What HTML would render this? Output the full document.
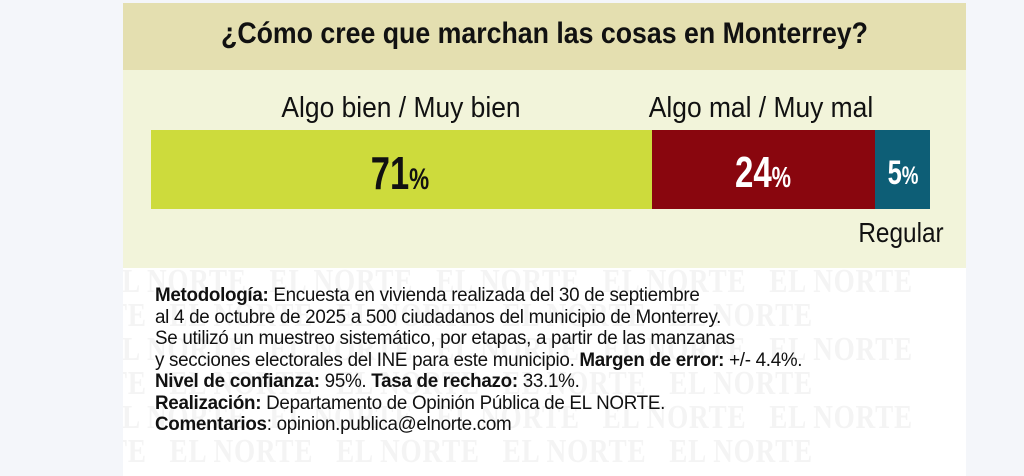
<!DOCTYPE html>
<html><head><meta charset="utf-8"><style>
body{margin:0;width:1024px;height:476px;background:#f4f6fa;position:relative;overflow:hidden;font-family:"Liberation Sans",sans-serif;}
.panel{position:absolute;left:123px;top:3px;width:843px;height:473px;background:#fff;overflow:hidden}
.title{position:absolute;left:0;top:0;width:843px;height:67px;background:#e4dfb0}
.light{position:absolute;left:0;top:67px;width:843px;height:198px;background:#f2f4da}
.t{position:absolute;white-space:nowrap;transform-origin:center;}
.wm{position:absolute;left:-20px;font-family:"Liberation Serif",serif;font-weight:bold;font-size:34px;line-height:34px;color:#f4f4f4;white-space:nowrap;letter-spacing:1px;transform:scaleX(0.8);transform-origin:left top}
.notes{position:absolute;left:32px;top:282px;font-size:19px;line-height:21.5px;color:#111;transform:scaleX(0.99);transform-origin:left top;white-space:nowrap;letter-spacing:-0.3px}
.notes b{font-weight:bold}
</style></head><body>
<div class="panel">
<div class="wm" style="top:262px">EL NORTE&nbsp;&nbsp;&nbsp;EL NORTE&nbsp;&nbsp;&nbsp;EL NORTE&nbsp;&nbsp;&nbsp;EL NORTE&nbsp;&nbsp;&nbsp;EL NORTE</div>
<div class="wm" style="top:296px;left:-120px">EL NORTE&nbsp;&nbsp;&nbsp;EL NORTE&nbsp;&nbsp;&nbsp;EL NORTE&nbsp;&nbsp;&nbsp;EL NORTE&nbsp;&nbsp;&nbsp;EL NORTE</div>
<div class="wm" style="top:330px">EL NORTE&nbsp;&nbsp;&nbsp;EL NORTE&nbsp;&nbsp;&nbsp;EL NORTE&nbsp;&nbsp;&nbsp;EL NORTE&nbsp;&nbsp;&nbsp;EL NORTE</div>
<div class="wm" style="top:364px;left:-120px">EL NORTE&nbsp;&nbsp;&nbsp;EL NORTE&nbsp;&nbsp;&nbsp;EL NORTE&nbsp;&nbsp;&nbsp;EL NORTE&nbsp;&nbsp;&nbsp;EL NORTE</div>
<div class="wm" style="top:398px">EL NORTE&nbsp;&nbsp;&nbsp;EL NORTE&nbsp;&nbsp;&nbsp;EL NORTE&nbsp;&nbsp;&nbsp;EL NORTE&nbsp;&nbsp;&nbsp;EL NORTE</div>
<div class="wm" style="top:432px;left:-120px">EL NORTE&nbsp;&nbsp;&nbsp;EL NORTE&nbsp;&nbsp;&nbsp;EL NORTE&nbsp;&nbsp;&nbsp;EL NORTE&nbsp;&nbsp;&nbsp;EL NORTE</div>
<div class="title"></div>
<div class="light"></div>
<div class="t" style="left:0;width:843px;text-align:center;top:14px;font-size:30px;font-weight:bold;color:#111;transform:scaleX(0.89)">¿Cómo cree que marchan las cosas en Monterrey?</div>
<div class="t" style="left:128px;width:300px;text-align:center;top:89px;font-size:29px;color:#111;transform:scaleX(0.91)">Algo bien / Muy bien</div>
<div class="t" style="left:488px;width:300px;text-align:center;top:89px;font-size:29px;color:#111;transform:scaleX(0.91)">Algo mal / Muy mal</div>
<div style="position:absolute;left:28px;top:127px;width:501px;height:79px;background:#cddb3c"></div>
<div style="position:absolute;left:529px;top:127px;width:223px;height:79px;background:#89060e"></div>
<div style="position:absolute;left:752px;top:127px;width:55px;height:79px;background:#0d5e76"></div>
<div class="t" style="left:177px;width:200px;text-align:center;top:143px;font-size:46px;font-weight:bold;color:#111;transform:scaleX(0.75)">71<span style="font-size:30px">%</span></div>
<div class="t" style="left:540px;width:200px;text-align:center;top:145px;font-size:44px;font-weight:bold;color:#fff;transform:scaleX(0.75)">24<span style="font-size:29px">%</span></div>
<div class="t" style="left:740px;width:80px;text-align:center;top:151px;font-size:34px;font-weight:bold;color:#fff;transform:scaleX(0.75)">5<span style="font-size:25px">%</span></div>
<div class="t" style="left:703px;width:150px;text-align:center;top:214px;font-size:28px;color:#111;transform:scaleX(0.87)">Regular</div>
<div class="notes">
<b>Metodología:</b> Encuesta en vivienda realizada del 30 de septiembre<br>
al 4 de octubre de 2025 a 500 ciudadanos del municipio de Monterrey.<br>
Se utilizó un muestreo sistemático, por etapas, a partir de las manzanas<br>
y secciones electorales del INE para este municipio. <b>Margen de error:</b> +/- 4.4%.<br>
<b>Nivel de confianza:</b> 95%. <b>Tasa de rechazo:</b> 33.1%.<br>
<b>Realización:</b> Departamento de Opinión Pública de EL NORTE.<br>
<b>Comentarios</b>: opinion.publica@elnorte.com
</div>
</div>
</body></html>
